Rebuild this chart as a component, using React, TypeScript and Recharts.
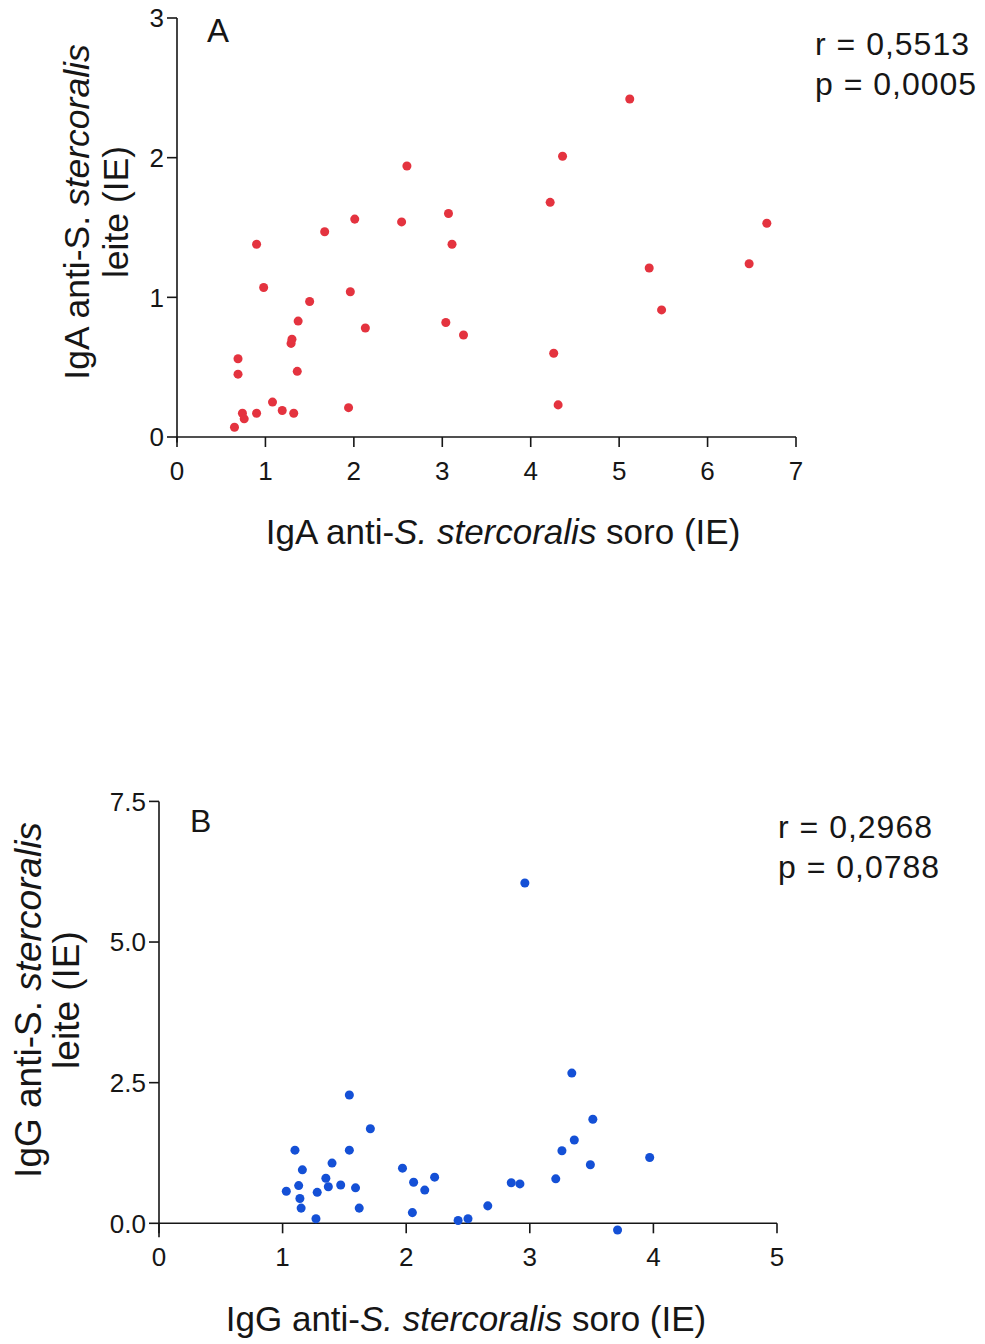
import { ScatterChart, Scatter, XAxis, YAxis, ReferenceLine } from 'recharts';

// Painel A - IgA (soro x leite)
const igaSoro = [
  0.9, 0.98, 0.69, 0.69, 0.74, 0.76, 0.65, 0.9, 1.08, 1.19, 1.32, 1.36,
  1.29, 1.3, 1.37, 1.5, 1.67, 2.01, 1.96, 2.13, 1.94, 2.54, 2.6, 3.07,
  3.11, 3.04, 3.24, 4.22, 4.36, 4.26, 4.31, 5.12, 5.34, 5.48, 6.47, 6.67,
];
const igaLeite = [
  1.38, 1.07, 0.56, 0.45, 0.17, 0.13, 0.07, 0.17, 0.25, 0.19, 0.17, 0.47,
  0.67, 0.7, 0.83, 0.97, 1.47, 1.56, 1.04, 0.78, 0.21, 1.54, 1.94, 1.6,
  1.38, 0.82, 0.73, 1.68, 2.01, 0.6, 0.23, 2.42, 1.21, 0.91, 1.24, 1.53,
];

// Painel B - IgG (soro x leite)
const iggSoro = [
  1.54, 1.71, 1.1, 1.54, 1.4, 1.16, 1.97, 2.23, 2.06, 1.35, 1.37, 1.13,
  1.47, 1.59, 2.15, 1.03, 1.28, 1.14, 1.15, 1.62, 2.05, 1.27, 2.42, 2.5,
  2.96, 3.34, 3.51, 3.36, 3.26, 3.97, 3.49, 3.21, 2.85, 2.92, 2.66, 3.71,
];
const iggLeite = [
  2.28, 1.68, 1.3, 1.3, 1.07, 0.95, 0.98, 0.82, 0.73, 0.8, 0.65, 0.67,
  0.68, 0.63, 0.59, 0.57, 0.55, 0.44, 0.27, 0.27, 0.19, 0.08, 0.05, 0.08,
  6.05, 2.67, 1.85, 1.48, 1.29, 1.17, 1.04, 0.79, 0.72, 0.7, 0.31, -0.12,
];

const igaXTicks = [0, 1, 2, 3, 4, 5, 6, 7];
const igaYTicks = [0, 1, 2, 3];
const iggXTicks = [0, 1, 2, 3, 4, 5];
const iggYTicks = [0, 2.5, 5, 7.5];

const FONT = '"Liberation Sans", Arial, Helvetica, sans-serif';
const INK = '#161616';

const toPoints = (xs: number[], ys: number[]) => xs.map((x, i) => ({ x, y: ys[i] }));

function XTick({ x, y, payload, lift }: any) {
  const y0 = y - lift;
  return (
    <g>
      <line x1={x} x2={x} y1={y0} y2={y0 + 10} stroke={INK} strokeWidth={1.6} />
      <text x={x} y={y0 + 43} textAnchor="middle" fontSize={26} fill={INK} fontFamily={FONT}>
        {payload.value}
      </text>
    </g>
  );
}

function YTitle({ first, lx1, lx2, lcy, fs }: any) {
  return (
    <g fontFamily={FONT} fontSize={fs} fill={INK}>
      <text x={lx1} y={lcy} textAnchor="middle" transform={`rotate(-90 ${lx1} ${lcy})`}>
        {first} anti-S. <tspan fontStyle="italic">stercoralis</tspan>
      </text>
      <text x={lx2} y={lcy} textAnchor="middle" transform={`rotate(-90 ${lx2} ${lcy})`}>
        leite (IE)
      </text>
    </g>
  );
}

function XTitle({ first, tx, ty }: any) {
  return (
    <text x={tx} y={ty} textAnchor="middle" fontFamily={FONT} fontSize={35} fill={INK}>
      {first} anti-<tspan fontStyle="italic">S. stercoralis</tspan> soro (IE)
    </text>
  );
}

function Panel(p: any) {
  const unit = (p.zeroY - p.plotTop) / p.yMax;
  const lift = p.pad * unit;
  const xAxisH = p.height - p.zeroY - lift;
  return (
    <div style={{ position: 'absolute', left: 0, top: p.top, width: 985, height: p.height }}>
      <ScatterChart
        width={985}
        height={p.height}
        margin={{ top: p.plotTop, right: 985 - p.right, bottom: 0, left: 0 }}
      >
        <XAxis
          type="number"
          dataKey="x"
          domain={[0, p.xMax]}
          ticks={p.xTicks}
          interval={0}
          axisLine={false}
          tickLine={false}
          tickSize={0}
          tickMargin={0}
          height={xAxisH}
          tick={<XTick lift={lift} />}
          label={<XTitle first={p.iso} tx={p.xtX} ty={p.xtY} />}
        />
        <YAxis
          type="number"
          dataKey="y"
          domain={[-p.pad, p.yMax]}
          ticks={p.yTicks}
          interval={0}
          width={p.left}
          axisLine={{ stroke: INK, strokeWidth: 1.6 }}
          tickLine={{ stroke: INK, strokeWidth: 1.6 }}
          tickSize={10}
          tickMargin={3}
          tickFormatter={p.yFmt}
          tick={{ fill: INK, fontSize: 26, fontFamily: FONT }}
          label={<YTitle first={p.iso} lx1={p.ytX1} lx2={p.ytX2} lcy={p.ytY} fs={p.ytFs} />}
        />
        <ReferenceLine y={0} stroke={INK} strokeWidth={1.6} />
        <Scatter data={p.data} fill={p.color} isAnimationActive={false} />
      </ScatterChart>
    </div>
  );
}

export default function App() {
  return (
    <div
      style={{
        position: 'absolute',
        left: 0,
        top: 0,
        width: 985,
        height: 1344,
        background: '#fff',
        overflow: 'hidden',
      }}
    >
      <Panel
        top={0}
        height={600}
        plotTop={18}
        zeroY={437}
        pad={0.04}
        left={177}
        right={796}
        xMax={7}
        yMax={3}
        xTicks={igaXTicks}
        yTicks={igaYTicks}
        yFmt={(v: number) => String(v)}
        data={toPoints(igaSoro, igaLeite)}
        color="#e4333f"
        iso="IgA"
        ytX1={89}
        ytX2={128}
        ytY={212}
        ytFs={35.5}
        xtX={503}
        xtY={544}
      />
      <Panel
        top={700}
        height={644}
        plotTop={101.4}
        zeroY={523.3}
        pad={0.25}
        left={159}
        right={777}
        xMax={5}
        yMax={7.5}
        xTicks={iggXTicks}
        yTicks={iggYTicks}
        yFmt={(v: number) => v.toFixed(1)}
        data={toPoints(iggSoro, iggLeite)}
        color="#1450d6"
        iso="IgG"
        ytX1={41}
        ytX2={79}
        ytY={300}
        ytFs={37}
        xtX={466}
        xtY={631}
      />
      <svg
        width={985}
        height={1344}
        style={{ position: 'absolute', left: 0, top: 0, pointerEvents: 'none' }}
        fontFamily={FONT}
        fill={INK}
      >
        <text x={207} y={42} fontSize={33}>A</text>
        <text x={815} y={55} fontSize={32} letterSpacing={1}>r = 0,5513</text>
        <text x={815} y={95} fontSize={32} letterSpacing={1}>p = 0,0005</text>
        <text x={190} y={832} fontSize={32}>B</text>
        <text x={778} y={838} fontSize={32} letterSpacing={1}>r = 0,2968</text>
        <text x={778} y={878} fontSize={32} letterSpacing={1}>p = 0,0788</text>
      </svg>
    </div>
  );
}
